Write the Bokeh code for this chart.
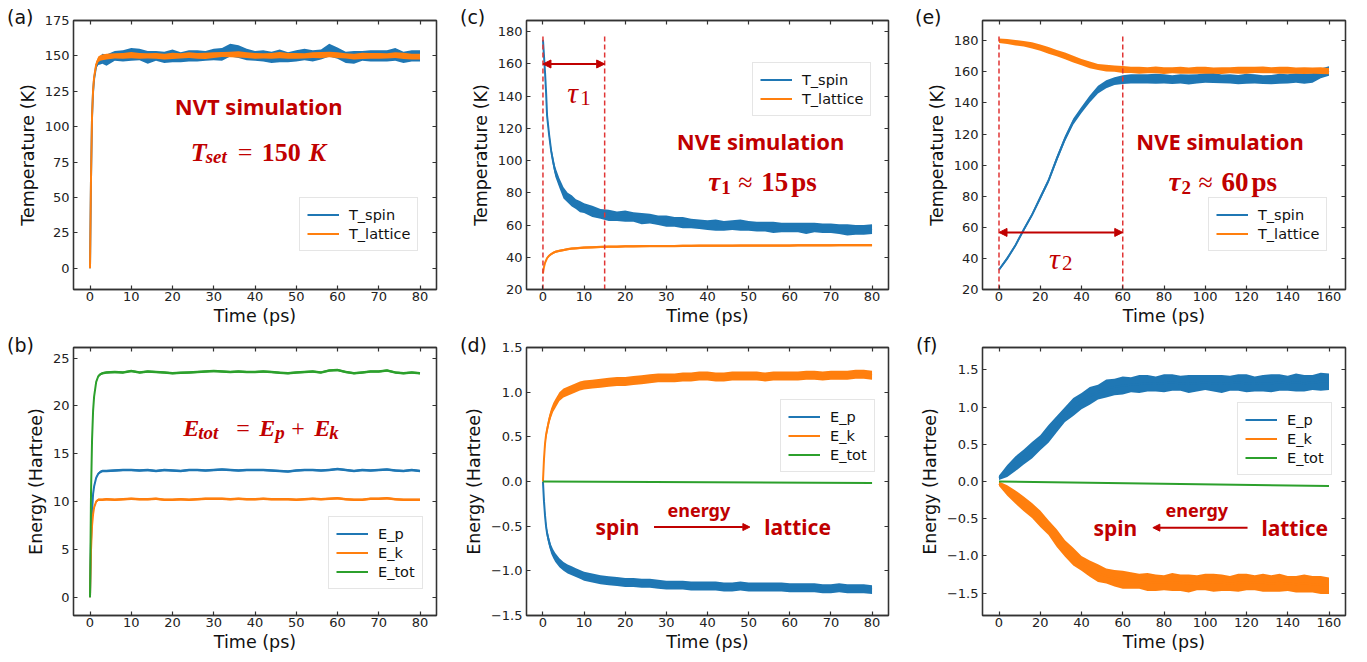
from bokeh.plotting import figure
from bokeh.models import (Range1d, LinearAxis, SingleIntervalTicker, CustomJSTickFormatter,
                          Label, Arrow, NormalHead, GridBox, Div)
from bokeh.embed import file_html
from bokeh.resources import INLINE

BLUE = "#1f77b4"; ORANGE = "#ff7f0e"; GREEN = "#2ca02c"
RED = "#c00000"; DASH_RED = "#e03535"; AXC = "#333333"

# ---------------- data ----------------
# panels (a),(b): time grid (ps)
ta = [0, 0.25, 0.5, 0.75, 1, 1.5, 2, 2.5, 3, 4, 6, 8, 10, 12, 14, 16, 18, 20, 22, 24, 26, 28, 30,
      32, 34, 36, 38, 40, 42, 44, 46, 48, 50, 52, 54, 56, 58, 60, 62, 64, 66, 68, 70, 72, 74, 76, 78, 80]
a_spin = [0, 65, 108, 125, 134, 143, 146, 147, 148, 147, 150, 150, 151, 151, 149, 150, 149, 150, 149,
          150, 150, 150, 151, 151, 154, 153, 151, 150, 150, 149, 150, 149, 150, 151, 150, 151, 154, 152,
          149, 149, 150, 150, 150, 150, 151, 149, 150, 150]
a_spin_noise = [0.5, 1, 1.5, 1.5, 2, 2, 2.5, 3, 3.5, 4, 3.5, 4, 4.5, 4, 4.5, 3.5, 4, 4.5, 3.5, 4, 4, 3.5,
                4, 4.5, 4.5, 4.5, 4, 3.5, 4, 4, 4.5, 3.5, 4, 4, 4, 3.5, 4.5, 4, 4, 4.5, 3.5, 4, 4, 4,
                4.5, 4, 4, 4]
a_lat = [0, 65, 108, 126, 135, 144, 147.5, 148.5, 149, 149.5, 150, 150, 150.5, 150, 150, 150, 149.5,
         150, 150, 150.5, 150, 150, 150.5, 151, 151, 151, 150.5, 150, 150, 150, 150.5, 150, 150, 150,
         150.5, 150.5, 151, 150.5, 150, 149.5, 150, 150, 150, 150, 150.5, 150, 149.5, 149.5]
a_lat_noise = [0.5, 1, 1.5, 1.5, 1.5, 1.8, 2, 2, 2, 2, 1.8, 2, 2.2, 2, 1.8, 2, 2, 2.2, 1.8, 2, 2, 2.2,
               2, 1.8, 2, 2.2, 2, 2, 1.8, 2, 2.2, 2, 2, 1.8, 2, 2.2, 2, 2, 1.8, 2, 2.2, 2, 2, 1.8, 2,
               2.2, 2, 2]

b_ep = [0, 6, 9, 10.8, 11.6, 12.5, 12.9, 13.1, 13.2, 13.2, 13.25, 13.3, 13.3, 13.25, 13.3, 13.2, 13.3,
        13.25, 13.2, 13.3, 13.3, 13.25, 13.3, 13.35, 13.3, 13.25, 13.3, 13.3, 13.3, 13.25, 13.2, 13.15,
        13.25, 13.3, 13.3, 13.25, 13.3, 13.4, 13.3, 13.2, 13.3, 13.25, 13.3, 13.35, 13.25, 13.2, 13.3, 13.2]
b_ek = [0, 5, 7.5, 8.7, 9.4, 10.0, 10.2, 10.2, 10.2, 10.25, 10.2, 10.25, 10.3, 10.25, 10.25, 10.3, 10.2,
        10.2, 10.25, 10.2, 10.25, 10.3, 10.3, 10.3, 10.25, 10.3, 10.25, 10.25, 10.3, 10.25, 10.25, 10.25,
        10.2, 10.25, 10.3, 10.25, 10.3, 10.35, 10.25, 10.2, 10.2, 10.3, 10.3, 10.35, 10.25, 10.2, 10.2, 10.2]
b_tot = [0, 11, 16.5, 19.5, 21, 22.5, 23.1, 23.3, 23.4, 23.5, 23.55, 23.5, 23.65, 23.5, 23.6, 23.55,
         23.5, 23.4, 23.45, 23.5, 23.55, 23.6, 23.65, 23.6, 23.55, 23.6, 23.55, 23.55, 23.6, 23.55, 23.45,
         23.4, 23.5, 23.55, 23.6, 23.5, 23.7, 23.75, 23.55, 23.4, 23.5, 23.6, 23.6, 23.7, 23.5, 23.4, 23.5, 23.4]
b_noise = 0.13

# panels (c),(d)
tc = [0, 0.25, 0.5, 0.75, 1, 1.5, 2, 2.5, 3, 4, 5, 6, 7, 8, 9, 10, 12, 14, 16, 18, 20, 22, 24, 26, 28,
      30, 32, 34, 36, 38, 40, 42, 44, 46, 48, 50, 52, 54, 56, 58, 60, 62, 64, 66, 68, 70, 72, 74, 76, 78, 80]
c_spin = [175, 165, 155, 143, 128, 116, 106, 99, 93, 86, 80, 77, 75, 73, 71.5, 70.5, 68.5, 67, 66, 65.5,
          65.5, 65, 64, 64, 63, 62.5, 62, 61.5, 61, 60.5, 60, 60, 59.5, 60, 60, 59.5, 59, 59, 58.5, 58.5,
          58.5, 58.5, 58, 58.5, 58, 58, 57.5, 57, 57, 57, 57.5]
c_spin_noise = [0.5, 1, 1.5, 2, 2, 2.5, 2.5, 3, 3, 3, 3.5, 3, 3.5, 3, 3.5, 3, 3.5, 3, 3.5, 3, 3.5, 3, 3.5,
                3, 3, 3.5, 3, 3.5, 3, 3, 3, 3.5, 3, 3, 3.5, 3, 3, 3, 3.5, 3, 3, 3, 3.5, 3, 3, 3, 3, 3.5,
                3, 3, 3]
c_lat = [30, 34, 36.5, 38, 39.5, 41, 42, 42.8, 43.4, 44, 44.5, 45, 45.4, 45.6, 45.8, 46, 46.2, 46.4, 46.6,
         46.6, 46.8, 46.8, 46.9, 47, 47, 47, 47, 47.1, 47.1, 47.2, 47.2, 47.2, 47.2, 47.2, 47.3, 47.3, 47.3,
         47.3, 47.3, 47.3, 47.3, 47.4, 47.4, 47.4, 47.4, 47.4, 47.5, 47.5, 47.5, 47.5, 47.5]
c_lat_noise = 0.7
c_tau = [0, 15]

d_ek = [0, 0.25, 0.42, 0.52, 0.58, 0.69, 0.77, 0.83, 0.87, 0.95, 0.99, 1.01, 1.03, 1.05, 1.07, 1.08,
        1.09, 1.1, 1.11, 1.12, 1.12, 1.13, 1.14, 1.15, 1.16, 1.16, 1.16, 1.17, 1.17, 1.18, 1.18, 1.17,
        1.17, 1.18, 1.18, 1.18, 1.18, 1.17, 1.18, 1.18, 1.18, 1.18, 1.19, 1.19, 1.18, 1.19, 1.19, 1.19,
        1.2, 1.2, 1.19]
d_ep = [0, -0.22, -0.38, -0.5, -0.58, -0.68, -0.76, -0.81, -0.85, -0.91, -0.95, -0.98, -1.0, -1.02,
        -1.04, -1.06, -1.08, -1.1, -1.11, -1.12, -1.13, -1.13, -1.14, -1.14, -1.15, -1.16, -1.16, -1.16,
        -1.17, -1.17, -1.17, -1.17, -1.18, -1.18, -1.17, -1.18, -1.18, -1.18, -1.18, -1.18, -1.19, -1.19,
        -1.19, -1.19, -1.2, -1.2, -1.19, -1.2, -1.2, -1.2, -1.21]
d_noise = 0.05
d_tot_t = [0, 80]
d_tot = [0.0, -0.018]

# panels (e),(f)
te = [0, 4, 8, 12, 16, 20, 24, 28, 32, 36, 40, 44, 48, 52, 56, 60, 64, 68, 72, 76, 80, 84, 88, 92, 96,
      100, 104, 108, 112, 116, 120, 124, 128, 132, 136, 140, 144, 148, 152, 156, 160]
e_spin = [32.7, 40, 48.5, 58.5, 68, 79, 90, 104, 117, 128, 135.5, 142.5, 148.5, 152, 154, 155, 155.5,
          155.5, 155.5, 155.5, 155.5, 155, 155.5, 155, 155.5, 156, 156, 155.5, 155.5, 155, 155.5, 155.5,
          155, 155, 155.5, 155.5, 156, 155.5, 156, 159, 160.5]
e_spin_noise = [0.8, 1, 1, 1.2, 1.2, 1.5, 1.5, 1.8, 1.8, 2, 2, 2.2, 2.5, 2.5, 2.5, 2.8, 3, 3, 3, 3.2, 3,
                2.8, 3, 3.2, 3, 3, 3.2, 2.8, 3, 3, 3.2, 3, 2.8, 3, 3.2, 3, 3, 3.2, 3, 3.2, 3]
e_lat = [180, 179.5, 178.7, 178, 177, 175.5, 173.8, 172, 170.2, 168.2, 166.3, 164.5, 163.1, 162.4, 162,
         161.5, 161.3, 161, 161, 161.2, 160.8, 161, 161, 160.8, 161, 161, 160.8, 160.8, 161, 161, 161,
         161.2, 161.2, 161, 161, 161, 160.8, 160.8, 160.7, 160.8, 160.5]
e_lat_noise = [1.5, 1.6, 1.8, 1.8, 2, 2, 2.2, 2, 2.2, 2.2, 2, 2.2, 2, 2.2, 2, 2.2, 2, 2.2, 2, 2.2, 2.2,
               2, 2.2, 2, 2.2, 2.2, 2, 2.2, 2, 2.2, 2.2, 2, 2.2, 2, 2.2, 2.2, 2, 2.2, 2, 2.2, 2]
e_tau = [0, 60]

f_ep = [0.05, 0.14, 0.24, 0.33, 0.42, 0.52, 0.64, 0.77, 0.9, 1.0, 1.08, 1.15, 1.2, 1.25, 1.27, 1.29,
        1.3, 1.31, 1.32, 1.31, 1.32, 1.33, 1.32, 1.31, 1.32, 1.33, 1.32, 1.31, 1.32, 1.33, 1.32, 1.31,
        1.32, 1.32, 1.33, 1.32, 1.33, 1.32, 1.33, 1.34, 1.34]
f_ep_noise = [0.03, 0.08, 0.1, 0.1, 0.11, 0.1, 0.12, 0.11, 0.1, 0.12, 0.11, 0.12, 0.1, 0.12, 0.11, 0.12,
              0.1, 0.12, 0.11, 0.1, 0.12, 0.11, 0.1, 0.12, 0.11, 0.1, 0.11, 0.12, 0.1, 0.11, 0.12, 0.1,
              0.11, 0.12, 0.11, 0.1, 0.12, 0.11, 0.1, 0.12, 0.11]
f_ek = [-0.03, -0.12, -0.21, -0.3, -0.39, -0.5, -0.62, -0.76, -0.9, -1.01, -1.1, -1.17, -1.23, -1.27,
        -1.3, -1.32, -1.33, -1.34, -1.35, -1.36, -1.36, -1.35, -1.36, -1.37, -1.36, -1.35, -1.36, -1.36,
        -1.37, -1.36, -1.35, -1.36, -1.36, -1.37, -1.36, -1.37, -1.38, -1.37, -1.38, -1.39, -1.4]
f_ek_noise = [0.03, 0.07, 0.09, 0.1, 0.1, 0.11, 0.1, 0.12, 0.11, 0.12, 0.1, 0.11, 0.12, 0.1, 0.11, 0.12,
              0.11, 0.1, 0.12, 0.11, 0.1, 0.12, 0.11, 0.12, 0.1, 0.11, 0.12, 0.11, 0.1, 0.12, 0.11, 0.1,
              0.12, 0.11, 0.12, 0.1, 0.11, 0.12, 0.11, 0.12, 0.11]
f_tot_t = [0, 160]
f_tot = [0.0, -0.062]

panel_tags = ["(a)", "(c)", "(e)", "(b)", "(d)", "(f)"]

for a, b in [(ta, a_spin), (ta, a_spin_noise), (ta, a_lat), (ta, a_lat_noise), (ta, b_ep), (ta, b_ek),
             (ta, b_tot), (tc, c_spin), (tc, c_spin_noise), (tc, c_lat), (tc, d_ek), (tc, d_ep),
             (te, e_spin), (te, e_spin_noise), (te, e_lat), (te, e_lat_noise), (te, f_ep), (te, f_ep_noise),
             (te, f_ek), (te, f_ek_noise)]:
    assert len(a) == len(b), (len(a), len(b))

# ---------------- helpers ----------------
MINUS_FMT = "return tick.toFixed(1).replace('-', '\\u2212');"


def make_fig(w, h, bl, br, bt, bb, xr, yr, xint, yint, ylabel, dec=False):
    p = figure(width=w, height=h, x_range=Range1d(*xr), y_range=Range1d(*yr),
               output_backend="svg", toolbar_location=None,
               min_border_left=bl, min_border_right=br, min_border_top=bt, min_border_bottom=bb)
    p.xgrid.visible = False
    p.ygrid.visible = False
    p.outline_line_color = AXC
    p.outline_line_width = 1.3
    p.background_fill_color = "white"
    p.border_fill_color = "white"
    p.xaxis.ticker = SingleIntervalTicker(interval=xint, num_minor_ticks=0)
    p.yaxis.ticker = SingleIntervalTicker(interval=yint, num_minor_ticks=0)
    if dec:
        p.yaxis.formatter = CustomJSTickFormatter(code=MINUS_FMT)
    p.xaxis.axis_label = "Time (ps)"
    p.yaxis.axis_label = ylabel
    for ax in [p.xaxis[0], p.yaxis[0]]:
        ax.axis_line_color = AXC
        ax.axis_line_width = 1.3
        ax.major_tick_line_color = AXC
        ax.major_tick_line_width = 1.2
        ax.major_tick_in = 4
        ax.major_tick_out = 0
        ax.minor_tick_line_color = None
        ax.major_label_text_font = "DejaVu Sans"
        ax.major_label_text_font_size = "13px"
        ax.major_label_text_color = "#222222"
        ax.axis_label_text_font = "DejaVu Sans"
        ax.axis_label_text_font_size = "17.5px"
        ax.axis_label_text_font_style = "normal"
        ax.axis_label_text_color = "#111111"
    p.xaxis.major_label_standoff = 2
    p.xaxis.axis_label_standoff = 2
    p.yaxis.major_label_standoff = 4
    p.yaxis.axis_label_standoff = 4
    for loc, iv in [("above", xint), ("right", yint)]:
        ax = LinearAxis(ticker=SingleIntervalTicker(interval=iv, num_minor_ticks=0),
                        formatter=CustomJSTickFormatter(code="return '';"))
        ax.axis_line_color = AXC
        ax.axis_line_width = 1.3
        ax.major_tick_line_color = AXC
        ax.major_tick_line_width = 1.2
        ax.major_tick_in = 4
        ax.major_tick_out = 0
        ax.minor_tick_line_color = None
        ax.major_label_text_font_size = "1px"
        ax.major_label_standoff = 0
        p.add_layout(ax, loc)
    return p


def band(p, t, c, noise, color, label):
    if isinstance(noise, (int, float)):
        noise = [noise] * len(c)
    lo = [v - n for v, n in zip(c, noise)]
    hi = [v + n for v, n in zip(c, noise)]
    p.varea(x=t, y1=lo, y2=hi, fill_color=color, fill_alpha=1.0)
    p.line(t, c, line_color=color, line_width=2, legend_label=label)


def style_legend(p, loc):
    lg = p.legend[0]
    lg.location = loc
    lg.label_text_font = "DejaVu Sans"
    lg.label_text_font_size = "14.5px"
    lg.label_text_color = "#111111"
    lg.glyph_width = 32
    lg.glyph_height = 19
    lg.label_height = 19
    lg.label_standoff = 10
    lg.padding = 7
    lg.spacing = 0
    lg.margin = 0
    lg.border_line_color = "#cccccc"
    lg.border_line_width = 1
    lg.background_fill_alpha = 0.9


def red_text(p, x, y, txt, size):
    p.add_layout(Label(x=x, y=y, text=txt, text_font="Noto Sans", text_font_style="bold",
                       text_font_size=f"{size}px", text_color=RED,
                       text_align="center", text_baseline="middle"))


SERIF = "Liberation Serif"


def rich(p, x, y, pieces):
    for txt, dx, dy, size, style in pieces:
        p.add_layout(Label(x=x, y=y, x_offset=dx, y_offset=-dy, text=txt, text_font=SERIF,
                           text_font_size=f"{size}px", text_font_style=style, text_color=RED,
                           text_align="left", text_baseline="alphabetic"))


def dbl_arrow(p, x0, x1, y):
    p.add_layout(Arrow(start=NormalHead(size=8, fill_color=RED, line_color=RED),
                       end=NormalHead(size=8, fill_color=RED, line_color=RED),
                       x_start=x0, y_start=y, x_end=x1, y_end=y, line_color=RED, line_width=2))


def one_arrow(p, x0, x1, y):
    p.add_layout(Arrow(end=NormalHead(size=7, fill_color=RED, line_color=RED),
                       x_start=x0, y_start=y, x_end=x1, y_end=y, line_color=RED, line_width=2))


# ---------------- panel (a) ----------------
fa = make_fig(455, 328, 73, 18, 20, 37, (-4, 84), (-15, 175), 10, 25, "Temperature (K)")
band(fa, ta, a_spin, a_spin_noise, BLUE, "T_spin")
band(fa, ta, a_lat, a_lat_noise, ORANGE, "T_lattice")
style_legend(fa, (226, 38))
red_text(fa, 40.9, 114.3, "NVT simulation", 22)
rich(fa, 24.4, 82, [("T", 0, 0, 26, "bold italic"), ("set", 15, 4, 19, "bold italic"),
                    ("=", 47, 0, 26, "normal"), ("150", 71, 0, 26, "bold"), ("K", 118, 0, 26, "bold italic")])

# ---------------- panel (c) ----------------
fc = make_fig(455, 328, 69, 22, 20, 37, (-4, 84), (20, 187), 10, 20, "Temperature (K)")
band(fc, tc, c_spin, c_spin_noise, BLUE, "T_spin")
band(fc, tc, c_lat, c_lat_noise, ORANGE, "T_lattice")
fc.segment(x0=c_tau, y0=[20, 20], x1=c_tau, y1=[178, 178], line_color=DASH_RED, line_width=1.5,
           line_dash="5 3")
dbl_arrow(fc, c_tau[0], c_tau[1], 160)
style_legend(fc, (226, 173))
rich(fc, 5.9, 142.3, [("\u03c4", 0, 0, 30, "italic"), ("1", 13, 5, 21, "normal")])
red_text(fc, 52.9, 112.3, "NVE simulation", 22)
rich(fc, 40.2, 86.7, [("\u03c4", 0, 0, 27, "bold italic"), ("1", 13, 5, 19, "bold"),
                      ("\u2248", 30, 0, 26, "normal"), ("15", 53, 0, 27, "bold"), ("ps", 83, 0, 27, "bold")])

# ---------------- panel (e) ----------------
fe = make_fig(452, 328, 72, 17, 20, 37, (-8, 168), (20, 193), 20, 20, "Temperature (K)")
band(fe, te, e_spin, e_spin_noise, BLUE, "T_spin")
band(fe, te, e_lat, e_lat_noise, ORANGE, "T_lattice")
fe.segment(x0=e_tau, y0=[20, 20], x1=e_tau, y1=[183, 183], line_color=DASH_RED, line_width=1.5,
           line_dash="5 3")
dbl_arrow(fe, e_tau[0], e_tau[1], 56.7)
style_legend(fe, (226, 38))
rich(fe, 24.2, 40.2, [("\u03c4", 0, 0, 30, "italic"), ("2", 13, 5, 21, "normal")])
red_text(fe, 107.2, 115.4, "NVE simulation", 22)
rich(fe, 82.2, 88.9, [("\u03c4", 0, 0, 27, "bold italic"), ("2", 13, 5, 19, "bold"),
                      ("\u2248", 30, 0, 26, "normal"), ("60", 53, 0, 27, "bold"), ("ps", 83, 0, 27, "bold")])

# ---------------- panel (b) ----------------
fb = make_fig(455, 326, 72, 19, 19, 37, (-4, 84), (-1.9, 26.1), 10, 5, "Energy (Hartree)")
band(fb, ta, b_ep, b_noise, BLUE, "E_p")
band(fb, ta, b_ek, b_noise, ORANGE, "E_k")
band(fb, ta, b_tot, b_noise, GREEN, "E_tot")
style_legend(fb, (255, 26))
rich(fb, 22.6, 17.67, [("E", 0, 0, 24, "bold italic"), ("tot", 15, 4, 19, "bold italic"),
                       ("=", 53, 0, 24, "normal"), ("E", 76, 0, 24, "bold italic"),
                       ("p", 92, 4, 19, "bold italic"), ("+", 108, 0, 24, "normal"),
                       ("E", 131, 0, 24, "bold italic"), ("k", 146, 4, 19, "bold italic")])

# ---------------- panel (d) ----------------
fd = make_fig(455, 326, 71, 21, 19, 37, (-4, 84), (-1.5, 1.5), 10, 0.5, "Energy (Hartree)", dec=True)
band(fd, tc, d_ep, d_noise, BLUE, "E_p")
band(fd, tc, d_ek, d_noise, ORANGE, "E_k")
fd.line(d_tot_t, d_tot, line_color=GREEN, line_width=2, legend_label="E_tot")
style_legend(fd, (254, 143))
red_text(fd, 18.1, -0.51, "spin", 21)
red_text(fd, 61.9, -0.51, "lattice", 21)
red_text(fd, 37.9, -0.32, "energy", 18)
one_arrow(fd, 27, 50.3, -0.51)

# ---------------- panel (f) ----------------
ff = make_fig(452, 326, 72, 16, 19, 37, (-8, 168), (-1.8, 1.8), 20, 0.5, "Energy (Hartree)", dec=True)
band(ff, te, f_ep, f_ep_noise, BLUE, "E_p")
band(ff, te, f_ek, f_ek_noise, ORANGE, "E_k")
ff.line(f_tot_t, f_tot, line_color=GREEN, line_width=2, legend_label="E_tot")
style_legend(ff, (255, 140))
red_text(ff, 56.4, -0.62, "spin", 21)
red_text(ff, 143.4, -0.62, "lattice", 21)
red_text(ff, 95.9, -0.38, "energy", 18)
one_arrow(ff, 120.5, 74.6, -0.62)

# ---------------- transparent HTML overlay carrying the panel tags ----------------
W, H = 455 + 455 + 452, 328 + 326
tag_pos = [(7, 8), (460, 8), (915, 8), (7, 336), (460, 336), (916, 336)]
spans = "".join(
    f'<span style="position:absolute;left:{tx}px;top:{ty}px;font-family:\'DejaVu Sans\';'
    f'font-size:19px;line-height:19px;color:#111111;white-space:nowrap;">{txt}</span>'
    for txt, (tx, ty) in zip(panel_tags, tag_pos))
overlay = Div(text=f'<div style="position:relative;width:{W}px;height:{H}px;pointer-events:none;">{spans}</div>',
              width=W, height=H, margin=0)

grid = GridBox(children=[(fa, 0, 0), (fc, 0, 1), (fe, 0, 2),
                         (fb, 1, 0), (fd, 1, 1), (ff, 1, 2),
                         (overlay, 0, 0, 2, 3)])
open("out.html", "w").write(file_html(grid, INLINE))
